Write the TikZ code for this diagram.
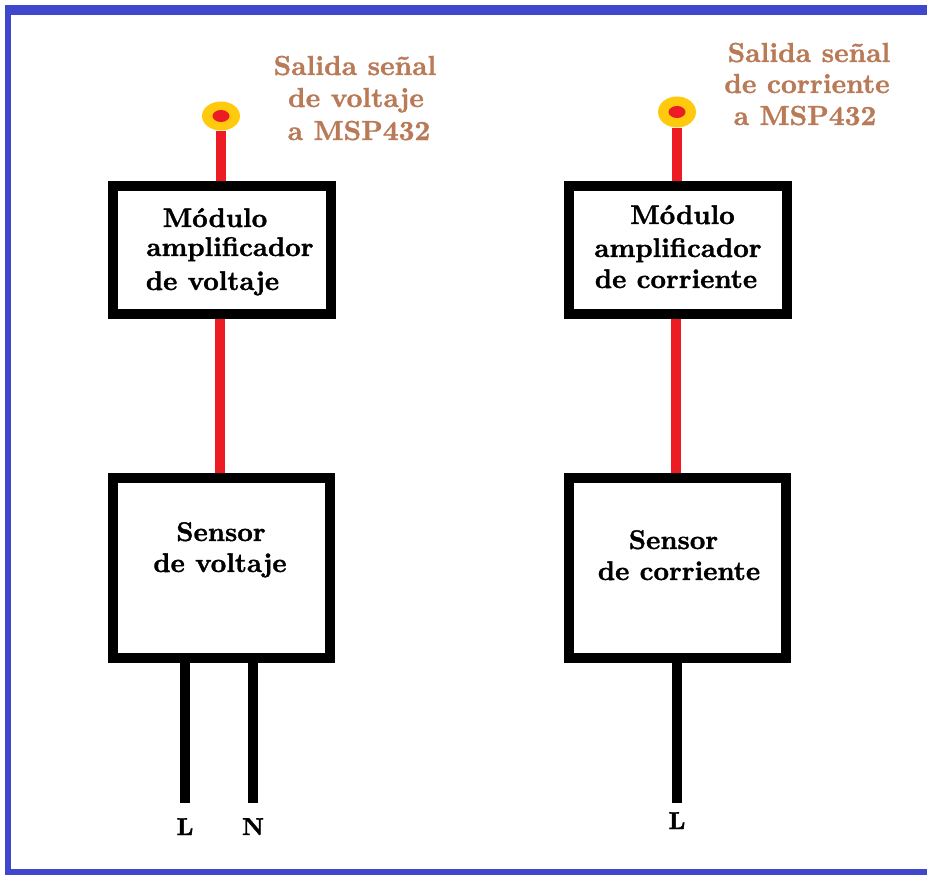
\documentclass[tikz,border=0pt]{standalone}
\usepackage{fontspec}
\newfontfamily\heavyfont{lmroman10-bold.otf}[FakeBold=1.3]
\usetikzlibrary{shapes.geometric}
\definecolor{frameblue}{RGB}{63,72,204}
\definecolor{wirered}{RGB}{237,28,36}
\definecolor{pingold}{RGB}{255,201,14}
\definecolor{labelbrown}{RGB}{185,122,87}
\begin{document}
\begin{tikzpicture}[x=1pt,y=-1pt,
  frame/.style={fill=frameblue},
  block/.style={draw=black,line width=10pt,inner sep=0pt},
  redwire/.style={draw=wirered,line width=10pt},
  blackwire/.style={draw=black,line width=10pt},
  pin/.style={ellipse,fill=pingold,inner sep=0pt},
  boxtext/.style={font=\heavyfont\fontsize{27}{32}\selectfont,inner sep=0pt,anchor=base},
  outlabel/.style={font=\heavyfont\fontsize{27.5}{32}\selectfont,text=labelbrown,inner sep=0pt,anchor=base},
  termlabel/.style={font=\heavyfont\fontsize{24.5}{28}\selectfont,inner sep=0pt,anchor=base}]
\useasboundingbox (0,0) rectangle (927,875);
\fill[white] (0,0) rectangle (927,875);
% frame
\fill[frame] (5,5) rectangle (927,15);
\fill[frame] (5,5) rectangle (11,875);
\fill[frame] (5,869) rectangle (927,875);
% blocks
\node[block,minimum width=218pt,minimum height=128pt] (ampL) at (222,250) {};
\node[block,minimum width=217pt,minimum height=180pt] (senL) at (221.5,568) {};
\node[block,minimum width=218pt,minimum height=128pt] (ampR) at (678,250) {};
\node[block,minimum width=217pt,minimum height=180pt] (senR) at (677.5,568) {};
% pins
\node[pin,minimum width=38pt,minimum height=29pt] (pinL) at (221,116) {};
\node[pin,minimum width=38pt,minimum height=31pt] (pinR) at (677,112) {};
\fill[wirered] (pinL.center) ellipse [x radius=8.5, y radius=6];
\fill[wirered] (pinR.center) ellipse [x radius=8.5, y radius=6];
% red wires
\draw[redwire] (pinL.south) -- (pinL.south |- ampL.north);
\draw[redwire] (pinR.south) -- (pinR.south |- ampR.north);
\draw[redwire] ([xshift=-2pt]ampL.south) -- ([xshift=-2pt]ampL.south |- senL.north);
\draw[redwire] ([xshift=-2pt]ampR.south) -- ([xshift=-2pt]ampR.south |- senR.north);
% black legs
\coordinate (legL) at (185,803);
\coordinate (legN) at (253,803);
\coordinate (legR) at (677,803);
\draw[blackwire] (legL |- senL.south) -- (legL);
\draw[blackwire] (legN |- senL.south) -- (legN);
\draw[blackwire] (legR |- senR.south) -- (legR);
\node[termlabel] (tL) at (185,835) {L};
\node[termlabel] (tN) at (253,835) {N};
\node[termlabel] (tR) at (677,829) {L};
% block texts
\node[boxtext] (ampL1) at (215,227) {Módulo};
\node[boxtext] (ampL2) at (230,256) {amplificador};
\node[boxtext] (ampL3) at (212.5,290) {de voltaje};
\node[boxtext] (ampR1) at (682.5,224) {Módulo};
\node[boxtext] (ampR2) at (678,257) {amplificador};
\node[boxtext] (ampR3) at (676,288) {de corriente};
\node[boxtext] (senL1) at (221,541) {Sensor};
\node[boxtext] (senL2) at (220,572) {de voltaje};
\node[boxtext] (senR1) at (673.5,549) {Sensor};
\node[boxtext] (senR2) at (679,580) {de corriente};
% output labels
\node[outlabel] (outL1) at (355,75) {Salida señal};
\node[outlabel] (outL2) at (356,107) {de voltaje};
\node[outlabel] (outL3) at (359,140) {a MSP432};
\node[outlabel] (outR1) at (809,62) {Salida señal};
\node[outlabel] (outR2) at (807,93) {de corriente};
\node[outlabel] (outR3) at (805,125) {a MSP432};
\end{tikzpicture}
\end{document}
